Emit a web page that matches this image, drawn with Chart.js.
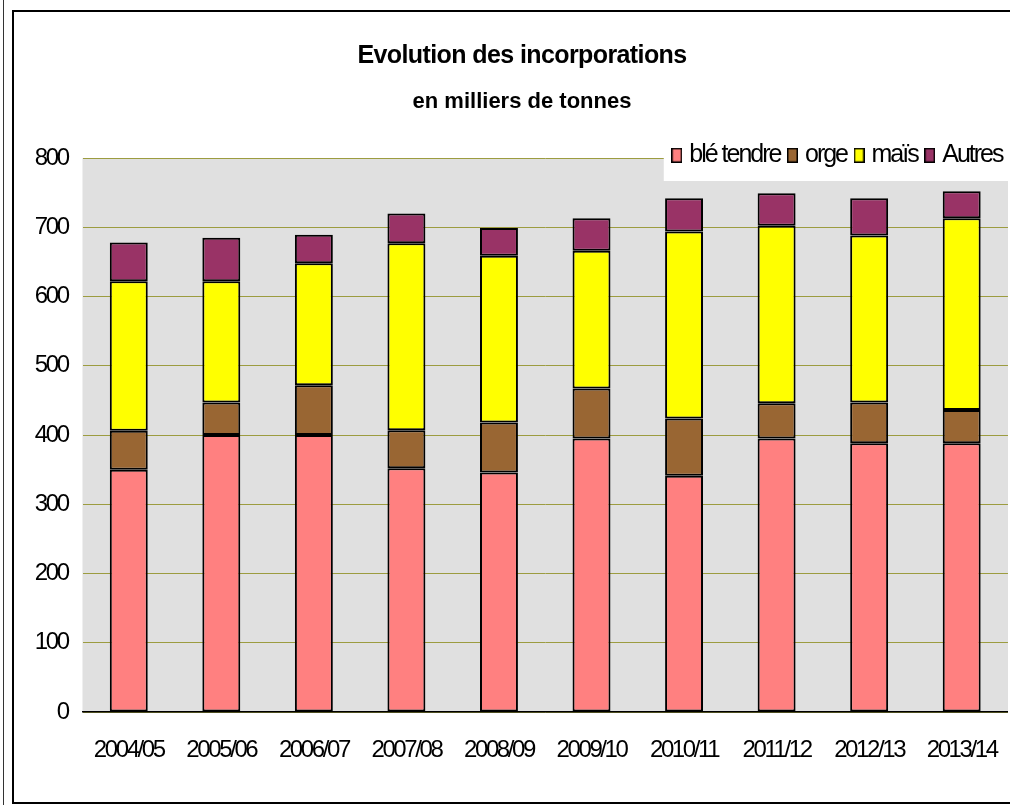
<!DOCTYPE html>
<html>
<head>
<meta charset="utf-8">
<script src="https://cdn.jsdelivr.net/npm/chart.js@4/dist/chart.umd.min.js"></script>
<style>
  html, body { margin: 0; padding: 0; background: #fff; }
  body { width: 1010px; height: 805px; overflow: hidden; position: relative; }
  #edge { position: absolute; left: 3px; top: 0; width: 1px; height: 805px; background: #333; }
  #frame { position: absolute; left: 12px; top: 10px; width: 1040px; height: 794px; border: 2px solid #000; box-sizing: border-box; }
  #c { position: absolute; left: 14px; top: 12px; }
</style>
</head>
<body>
<div id="edge"></div>
<div id="frame"></div>
<canvas id="c" width="1016" height="788"></canvas>
<script>
const categories = ['2004/05', '2005/06', '2006/07', '2007/08', '2008/09', '2009/10', '2010/11', '2011/12', '2012/13', '2013/14'];
const bleTendre = [350, 400, 400, 352, 346, 395, 341, 395, 388, 388];
const orge      = [56, 47, 72, 55, 72, 72, 83, 51, 59, 48];
const mais      = [216, 175, 176, 270, 241, 199, 270, 256, 241, 277];
const autres    = [56, 63, 41, 43, 40, 47, 48, 47, 54, 39];
const seriesNames = ['blé tendre', 'orge', 'maïs', 'Autres'];
const yTicks = [0, 100, 200, 300, 400, 500, 600, 700, 800];

const FONT = "'Liberation Sans', Arial, sans-serif";
const colors = ['#ff8080', '#996633', '#ffff00', '#993366'];
const values = [bleTendre, orge, mais, autres];

// legend swatches (small bordered rectangles)
function swatch(color) {
  const c = document.createElement('canvas');
  c.width = 11; c.height = 15;
  const g = c.getContext('2d');
  g.fillStyle = '#000';
  g.fillRect(0, 0, 11, 15);
  g.fillStyle = color;
  g.fillRect(1.5, 1.5, 8, 12);
  return c;
}

function withSpacing(ctx, sp, fn) {
  const prev = ctx.letterSpacing;
  ctx.letterSpacing = sp;
  try { return fn(); } finally { ctx.letterSpacing = prev || '0px'; }
}

const LEG_PAD = 12;
const LEG_FONT = 25;

const helper = {
  id: 'helper',
  beforeInit(chart) {
    const lg = chart.legend;
    const origFit = lg.fit;
    lg.fit = function () {
      withSpacing(this.ctx, '-2px', () => origFit.call(this));
      this.height = 28;
    };
    const origDraw = lg.draw;
    lg.draw = function () {
      const ctx = this.ctx;
      const x0 = this.right - this.lineWidths[0] - 5 - 8;
      ctx.save();
      ctx.fillStyle = '#ffffff';
      ctx.fillRect(x0, chart.chartArea.top - 1, chart.width - x0, 24);
      ctx.restore();
      withSpacing(ctx, '-2px', () => origDraw.call(this));
    };
  },
  afterLayout(chart) {
    const a = chart.chartArea;
    chart.boxes.forEach(b => {
      if (b !== chart.legend && b.options && typeof b.options.text === 'string') {
        b.left = 0;
        b.right = chart.width;
        if (!b._wrapped) {
          const od = b.draw;
          const sp = b.options.font && b.options.font.size >= 25 ? '-0.6px' : '0px';
          b.draw = function () { withSpacing(this.ctx, sp, () => od.apply(this, arguments)); };
          b._wrapped = true;
        }
      }
    });
    const lg = chart.legend;
    lg.right = a.right + 6.5;
    lg.top = a.top - 2.7 - LEG_PAD - LEG_FONT / 2;
    lg.bottom = a.top + 30;
    Object.values(chart.scales).forEach(s => {
      if (!s._wrapped) {
        const od = s.drawLabels;
        s.drawLabels = function () { withSpacing(this.ctx, '-2.4px', () => od.apply(this, arguments)); };
        s._wrapped = true;
      }
    });
  },
  beforeDraw(chart) {
    const a = chart.chartArea;
    const ctx = chart.ctx;
    ctx.save();
    ctx.fillStyle = '#e0e0e0';
    ctx.fillRect(a.left, a.top, a.right - a.left, a.bottom - a.top);
    ctx.restore();
  }
};

new Chart(document.getElementById('c'), {
  type: 'bar',
  data: {
    labels: categories,
    datasets: values.map((v, i) => ({
      label: seriesNames[i],
      data: v,
      backgroundColor: colors[i],
      borderColor: '#000000',
      borderWidth: 2,
      borderSkipped: false,
      pointStyle: swatch(colors[i]),
      categoryPercentage: 0.41,
      barPercentage: 1
    }))
  },
  options: {
    responsive: false,
    animation: false,
    devicePixelRatio: 1,
    layout: { padding: { left: 0, right: 18.5, top: 0, bottom: 0 } },
    plugins: {
      title: {
        display: true,
        text: 'Evolution des incorporations',
        color: '#000',
        font: { family: FONT, size: 25, weight: 'bold', lineHeight: 1.2 },
        padding: { top: 29, bottom: 18 }
      },
      subtitle: {
        display: true,
        text: 'en milliers de tonnes',
        color: '#000',
        font: { family: FONT, size: 22, weight: 'bold', lineHeight: 1.2 },
        padding: { top: 0, bottom: 14.6 }
      },
      legend: {
        display: true,
        position: 'top',
        align: 'end',
        labels: {
          color: '#000',
          font: { family: FONT, size: LEG_FONT },
          usePointStyle: true,
          boxWidth: 0.01,
          boxHeight: 15,
          padding: LEG_PAD
        }
      },
      tooltip: { enabled: false }
    },
    scales: {
      x: {
        stacked: true,
        grid: { display: false, drawTicks: false },
        border: { display: true, color: '#000', width: 1.5 },
        ticks: { color: '#000', font: { family: FONT, size: 24 }, padding: 24, maxRotation: 0, autoSkip: false },
        afterFit(s) { s.height = 88; }
      },
      y: {
        stacked: true,
        min: 0,
        max: 800,
        afterBuildTicks(s) { s.ticks = yTicks.map(v => ({ value: v })); },
        grid: { color: '#9c9c40', lineWidth: 1, drawTicks: false },
        border: { display: false },
        ticks: { color: '#000', font: { family: FONT, size: 24 }, padding: 14.9 },
        afterFit(s) { s.width = 68.5; }
      }
    }
  },
  plugins: [helper]
});
</script>
</body>
</html>
